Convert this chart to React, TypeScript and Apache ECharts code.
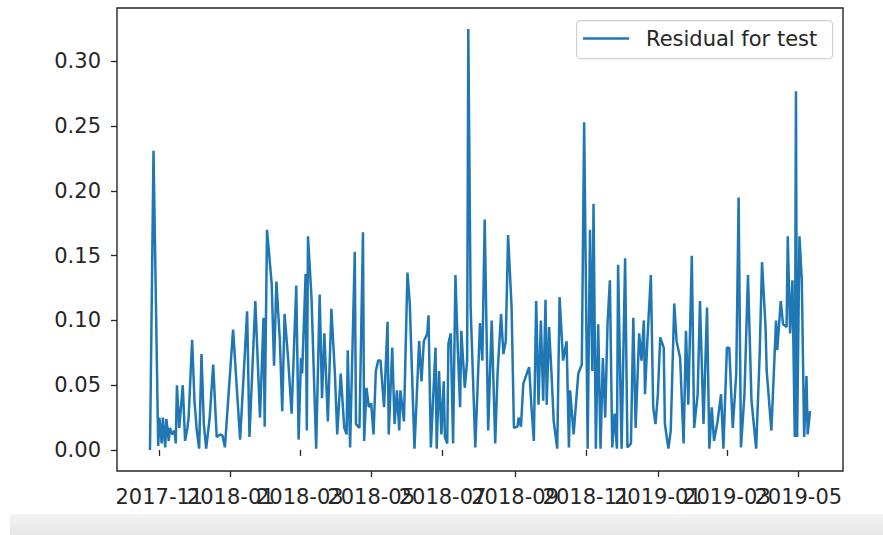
import React, { useEffect, useRef } from 'react';
import * as echarts from 'echarts';

const START_DATE = '2017-11-01';
const SERIES_NAME = 'Residual for test';

// days since START_DATE for each observation
const dayOffsets = [
  -8, -5, -1, 0, 2, 3, 5, 6, 8, 9, 11, 13, 14, 15, 17, 18, 20, 22, 24, 25,
  28, 30, 32, 34, 36, 38, 40, 43, 46, 49, 52, 54, 56, 63, 69, 75, 77, 82, 86, 89,
  90, 92, 96, 98, 100, 103, 105,
  107, 110, 113, 117, 119, 121, 122, 125, 126, 127, 130, 134, 137, 139, 141, 144, 147, 150, 152, 155,
  158, 160, 161, 163, 167, 168, 171, 174, 175, 177, 179, 181, 183, 185, 187, 189, 192, 195, 196, 199,
  201, 203, 205, 206, 209, 212, 214, 218, 222, 224, 226, 229, 230, 232,
  236, 237, 239, 241, 243, 244, 246, 247, 249, 251, 253, 255, 257, 258, 261, 263, 264, 266, 270, 274,
  276, 278, 281, 284, 287, 289, 292, 294, 296, 298, 301, 303, 306, 307, 309, 311, 314, 316, 318, 320,
  322, 324, 326, 328, 330, 331, 333, 335, 337, 340, 342, 345, 348, 350, 351, 354, 358, 361, 363, 366,
  368, 370, 371, 373, 375, 377, 379, 381, 383, 385, 387, 389, 391, 392, 395, 398, 400, 403, 405, 407,
  410, 412, 414, 415, 417, 420, 422, 424, 426, 428, 431, 432, 435, 437, 440, 442, 445, 448, 450, 452,
  455, 457, 460, 462, 465, 468, 470, 472, 474, 477, 480, 482, 485, 487, 490, 493, 495, 497, 500, 503,
  506, 510, 513, 515, 518, 519, 523, 526, 527, 528, 531, 533, 536, 537, 539, 541, 543, 544, 545, 547,
  549, 551, 553, 554, 556,
];

const residuals = [
  0.000, 0.231, 0.003, 0.025, 0.005, 0.025, 0.002, 0.024, 0.007, 0.017, 0.012, 0.015, 0.005, 0.050, 0.017, 0.028, 0.050, 0.007, 0.017, 0.025,
  0.085, 0.038, 0.015, 0.001, 0.074, 0.020, 0.001, 0.025, 0.066, 0.010, 0.012, 0.011, 0.002, 0.093, 0.008, 0.107, 0.010, 0.115, 0.025, 0.102,
  0.018, 0.170, 0.128, 0.065, 0.130, 0.084, 0.030,
  0.105, 0.071, 0.028, 0.127, 0.008, 0.071, 0.059, 0.136, 0.015, 0.165, 0.118, 0.001, 0.120, 0.040, 0.090, 0.022, 0.109, 0.059, 0.012, 0.059,
  0.017, 0.012, 0.077, 0.002, 0.153, 0.020, 0.017, 0.168, 0.007, 0.048, 0.033, 0.036, 0.012, 0.061, 0.069, 0.069, 0.033, 0.099, 0.012, 0.079,
  0.020, 0.046, 0.015, 0.046, 0.022, 0.137, 0.113, 0.001, 0.084, 0.053, 0.084, 0.090, 0.104, 0.002,
  0.079, 0.001, 0.061, 0.012, 0.053, 0.010, 0.005, 0.082, 0.090, 0.005, 0.135, 0.079, 0.033, 0.092, 0.048, 0.069, 0.325, 0.110, 0.002, 0.098,
  0.069, 0.178, 0.015, 0.100, 0.005, 0.059, 0.105, 0.074, 0.084, 0.166, 0.110, 0.017, 0.018, 0.025, 0.018, 0.051, 0.059, 0.064, 0.033, 0.007,
  0.115, 0.035, 0.100, 0.038, 0.116, 0.035, 0.095, 0.061, 0.022, 0.001, 0.118, 0.069, 0.084, 0.002, 0.046, 0.012, 0.059, 0.066, 0.253, 0.001,
  0.170, 0.061, 0.190, 0.001, 0.097, 0.001, 0.071, 0.025, 0.098, 0.131, 0.002, 0.028, 0.001, 0.143, 0.001, 0.148, 0.002, 0.005, 0.102, 0.017,
  0.090, 0.069, 0.100, 0.043, 0.084, 0.135, 0.033, 0.020, 0.043, 0.087, 0.079, 0.020, 0.001, 0.015, 0.113, 0.084, 0.071, 0.005, 0.092, 0.035,
  0.150, 0.017, 0.043, 0.115, 0.020, 0.110, 0.001, 0.033, 0.007, 0.022, 0.043, 0.001, 0.079, 0.079, 0.017, 0.059, 0.195, 0.002, 0.043, 0.135,
  0.038, 0.001, 0.074, 0.145, 0.095, 0.061, 0.015, 0.079, 0.100, 0.077, 0.115, 0.097, 0.095, 0.165, 0.090, 0.131, 0.010, 0.277, 0.010, 0.165,
  0.131, 0.010, 0.057, 0.012, 0.030,
];

const xTickLabels = ['2017-11', '2018-01', '2018-03', '2018-05', '2018-07', '2018-09', '2018-11', '2019-01', '2019-03', '2019-05'];
const yTickValues = [0, 0.05, 0.1, 0.15, 0.2, 0.25, 0.3];

const DAY_MS = 86400000;
const FONT = 'DejaVu Sans';
const INK = '#262626';
const BLUE = '#1f77b4';

export default function App() {
  const ref = useRef<HTMLDivElement>(null);

  useEffect(() => {
    if (!ref.current) return;
    const chart = echarts.init(ref.current, null, { renderer: 'svg' });
    const startMs = Date.parse(START_DATE + 'T00:00:00Z');
    const times = dayOffsets.map((d) => startMs + d * DAY_MS);
    const data = times.map((t, i) => [t, residuals[i]]);
    const tMin = times[0];
    const tMax = times[times.length - 1];
    const tPad = (tMax - tMin) * 0.05;
    const vMin = Math.min(...residuals);
    const vMax = Math.max(...residuals);
    const vPad = (vMax - vMin) * 0.05;
    const xTickValues = xTickLabels.map((s) => Date.parse(s + '-01T00:00:00Z'));
    const fmtMonth = (v: number) => {
      const d = new Date(v);
      return d.getUTCFullYear() + '-' + String(d.getUTCMonth() + 1).padStart(2, '0');
    };

    // Two overlapping bottom axes (alternate ticks) so that every month label is drawn,
    // overlapping its neighbours as in the reference.
    const makeX = (vals: number[]) => ({
      type: 'value',
      position: 'bottom',
      min: tMin - tPad,
      max: tMax + tPad,
      scale: true,
      axisLine: { show: false },
      splitLine: { show: false },
      axisTick: {
        show: true,
        inside: false,
        length: 6,
        customValues: vals,
        lineStyle: { color: INK, width: 1.3 },
      },
      axisLabel: {
        customValues: vals,
        formatter: fmtMonth,
        fontSize: 21,
        fontFamily: FONT,
        color: INK,
        margin: 15,
        hideOverlap: false,
        showMinLabel: true,
        showMaxLabel: true,
      },
    });
    const evenTicks = xTickValues.filter((_, i) => i % 2 === 0);
    const oddTicks = xTickValues.filter((_, i) => i % 2 === 1);

    chart.setOption({
      animation: false,
      backgroundColor: '#ffffff',
      grid: {
        left: 117,
        right: 40,
        top: 8,
        bottom: 64,
        show: true,
        borderColor: INK,
        borderWidth: 1.4,
        backgroundColor: 'transparent',
      },
      xAxis: [makeX(evenTicks), makeX(oddTicks)],
      yAxis: {
        type: 'value',
        min: vMin - vPad,
        max: vMax + vPad,
        axisLine: { show: false },
        splitLine: { show: false },
        axisTick: {
          show: true,
          inside: false,
          length: 6,
          customValues: yTickValues,
          lineStyle: { color: INK, width: 1.3 },
        },
        axisLabel: {
          customValues: yTickValues,
          formatter: (v: number) => v.toFixed(2),
          fontSize: 21,
          fontFamily: FONT,
          color: INK,
          margin: 16,
          showMinLabel: true,
          showMaxLabel: true,
        },
      },
      series: [
        {
          type: 'line',
          name: SERIES_NAME,
          xAxisIndex: 0,
          data,
          symbol: 'none',
          lineStyle: { color: BLUE, width: 2.5 },
          itemStyle: { color: BLUE },
        },
      ],
      graphic: [
        {
          type: 'rect',
          left: 576,
          top: 20,
          shape: { width: 256, height: 38, r: 4 },
          style: { fill: '#ffffff', stroke: '#d0d0d0', lineWidth: 1.2 },
          z: 10,
        },
        {
          type: 'line',
          shape: { x1: 583, y1: 38.5, x2: 629, y2: 38.5 },
          style: { stroke: BLUE, lineWidth: 2.5 },
          z: 11,
        },
        {
          type: 'text',
          x: 646,
          y: 38.5,
          style: {
            text: SERIES_NAME,
            fontSize: 21,
            fontFamily: FONT,
            fill: INK,
            verticalAlign: 'middle',
          },
          z: 11,
        },
        {
          type: 'rect',
          left: 10,
          top: 514,
          shape: { width: 873, height: 21 },
          style: {
            fill: new echarts.graphic.LinearGradient(0, 0, 0, 1, [
              { offset: 0, color: '#f3f3f3' },
              { offset: 1, color: '#e6e6e6' },
            ]),
          },
          z: 0,
        },
      ],
    });

    return () => chart.dispose();
  }, []);

  return (
    <div
      ref={ref}
      style={{ position: 'fixed', left: 0, top: 0, width: 883, height: 535, background: '#ffffff' }}
    />
  );
}
